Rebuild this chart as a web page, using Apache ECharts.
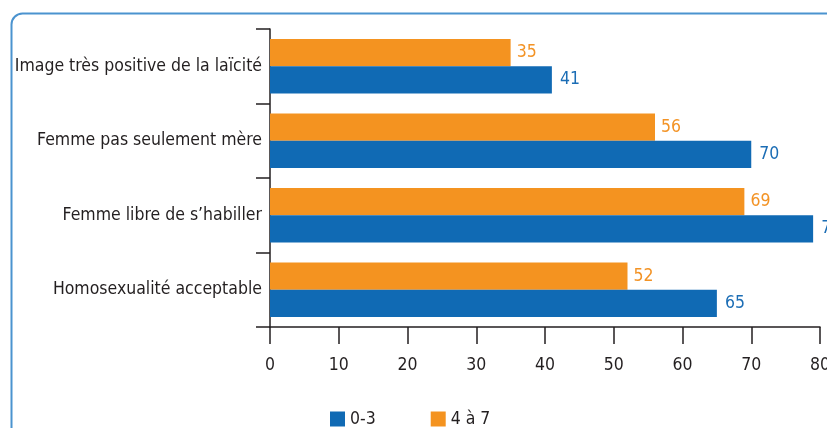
<!DOCTYPE html>
<html>
<head>
<meta charset="utf-8">
<script src="https://cdn.jsdelivr.net/npm/echarts@6/dist/echarts.min.js"></script>
<style>
html,body{margin:0;padding:0;background:#fff;}
#chart{width:827px;height:428px;}
</style>
</head>
<body>
<div id="chart"></div>
<script>
// categories listed bottom-to-top (ECharts category y axis grows upward)
var categories = ["Homosexualité acceptable", "Femme libre de s’habiller", "Femme pas seulement mère", "Image très positive de la laïcité"];
var seriesNames = ["0-3", "4 à 7"];
var values03 = [65, 79, 70, 41];
var values47 = [52, 69, 56, 35];
var xTicks = { min: 0, max: 80, interval: 10 };

var FONT = "'DejaVu Sans Condensed', 'Liberation Sans Narrow', sans-serif";
var FS = 17.5;
var BLUE = '#106ab4';
var ORANGE = '#f49320';
var TEXT = '#231f20';

var chart = echarts.init(document.getElementById('chart'), null, {renderer: 'canvas'});
chart.setOption({
  animation: false,
  backgroundColor: '#fff',
  textStyle: {fontFamily: FONT},
  graphic: [{
    type: 'rect',
    left: 9, top: 11,
    shape: {x: 0, y: 0, width: 900, height: 500, r: [11, 0, 0, 0]},
    style: {fill: 'none', stroke: '#4b93cf', lineWidth: 2},
    z: -1
  }],
  legend: {
    data: seriesNames,
    left: 325, top: 405,
    itemWidth: 15, itemHeight: 15, itemGap: 55,
    icon: 'rect',
    textStyle: {fontFamily: FONT, fontSize: FS, color: TEXT, padding: [0, 0, 0, 0]}
  },
  grid: {left: 270, right: 7, top: 29, bottom: 101, containLabel: false, outerBoundsMode: 'none'},
  xAxis: {
    type: 'value', min: xTicks.min, max: xTicks.max, interval: xTicks.interval,
    splitLine: {show: false},
    axisLine: {show: true, lineStyle: {color: '#231f20', width: 1.5}},
    axisTick: {show: true, length: 17, lineStyle: {color: '#231f20', width: 1.5}},
    axisLabel: {fontFamily: FONT, fontSize: FS, color: TEXT, margin: 29}
  },
  yAxis: {
    type: 'category', data: categories,
    axisLine: {show: true, lineStyle: {color: '#231f20', width: 1.5}},
    axisTick: {show: true, length: 14, lineStyle: {color: '#231f20', width: 1.5}},
    axisLabel: {fontFamily: FONT, fontSize: FS, color: TEXT, margin: 8}
  },
  series: [{
    name: seriesNames[1], type: 'bar', data: values47,
    barCategoryGap: '27%', barGap: '0%',
    itemStyle: {color: ORANGE},
    label: {show: true, position: 'right', distance: 6, fontFamily: FONT, fontSize: FS, color: '#f39325'}
  }, {
    name: seriesNames[0], type: 'bar', data: values03,
    barCategoryGap: '27%', barGap: '0%',
    itemStyle: {color: BLUE},
    label: {show: true, position: 'right', distance: 8, fontFamily: FONT, fontSize: FS, color: '#1b6db5'}
  }]
});
</script>
</body>
</html>
